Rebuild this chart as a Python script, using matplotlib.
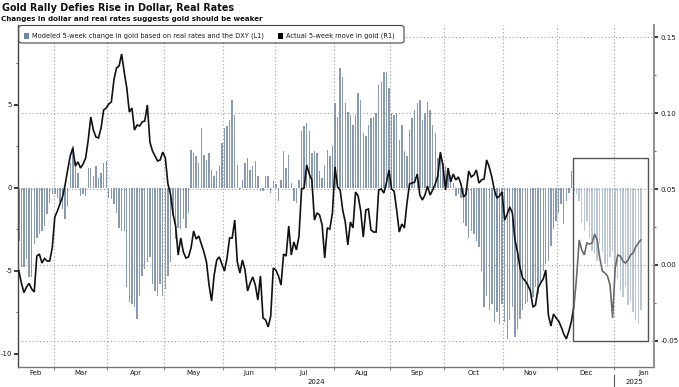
import numpy as np
import pandas as pd
import matplotlib
matplotlib.use("Agg")
import matplotlib.pyplot as plt
from matplotlib.patches import Rectangle, FancyBboxPatch
from matplotlib.lines import Line2D
import matplotlib.transforms as mtransforms

# ---------------- data (business days, Feb 12 2024 -> Jan 15 2025) ----------------
start_date = "2024-02-12"
end_date = "2025-01-15"
highlight_start = "2024-12-10"

title = "Gold Rally Defies Rise in Dollar, Real Rates"
subtitle = "Changes in dollar and real rates suggests gold should be weaker"
label_modeled = "Modeled 5-week change in gold based on real rates and the DXY (L1)"
label_actual = "Actual 5-week move in gold (R1)"

# Modeled 5-week change (L1), one value per business day
modeled = [
    # Feb
    -3.2, -4.8, -4.8, -4.3, -5.4, -5.4, -3.4, -3.0, -2.8, -2.6, -2.3, -1.6, -0.9, -0.4,
    # Mar
    -0.4, -0.6, -0.9, -1.3, -1.9, -1.1, 1.5, 2.5, 1.6, 0.9, -0.5, -0.4, -0.5, 1.2, 1.2,
    0.7, 1.3, 0.6, 0.9, 1.5, 1.6,
    # Apr
    -0.6, -0.7, -1.0, -1.5, -2.4, -2.6, -2.6, -6.0, -6.9, -7.0, -7.2, -7.9, -6.5, -5.3,
    -4.9, -4.5, -4.2, -5.8, -6.2, -6.5, -5.8, -6.5,
    # May
    -6.1, -5.3, -4.5, -1.7, -3.1, -2.4, -2.5, -1.9, -2.4, -1.5, 2.3, 2.1, 1.9, 1.5,
    3.6, 2.0, 1.7, 2.1, 1.1, 0.7, 1.0, 1.3, 2.7,
    # Jun
    3.6, 3.7, 4.1, 5.3, 4.4, 1.4, -0.1, 0.5, 1.5, 1.8, 1.1, 1.3, 1.6, 0.7, -0.2, -0.2,
    0.7, 0.7, -0.3, 0.4,
    # Jul
    0.2, -0.8, 0.5, 2.2, 1.2, 2.0, 0.3, -0.8, -0.9, 0.5, 3.4, 3.7, 3.9, 3.4, 2.1, 2.2,
    2.1, 1.0, 0.6, 1.4, 2.3, 1.9, 2.5,
    # Aug
    5.1, 4.3, 7.2, 6.7, 5.1, 4.6, 4.4, 3.8, 4.4, 5.7, 5.3, 3.3, 3.1, 3.8, 4.2, 4.3,
    4.5, 6.2, 6.4, 7.0, 7.0, 6.0,
    # Sep
    4.5, 4.4, 4.5, 2.9, 3.8, 2.2, 1.9, 3.5, 4.2, 4.7, 5.1, 5.3, 4.1, 4.5, 5.2, 4.7,
    3.8, 3.3, 1.8, 2.0, 1.5,
    # Oct
    1.3, 1.0, 0.8, 0.3, -0.5, -0.4, -0.6, -2.1, -2.3, -3.0, -2.6, -2.8, -3.2, -3.6,
    -5.0, -7.2, -6.5, -7.4, -7.0, -8.1, -7.5, -8.2, -7.0,
    # Nov
    -8.1, -9.1, -8.0, -7.2, -9.0, -8.5, -7.9, -7.4, -7.0, -6.9, -6.4, -6.6, -6.0, -6.4,
    -5.8, -5.0, -4.6, -4.4, -3.5, -2.5, -2.0,
    # Dec
    -1.5, -1.0, -2.2, -0.8, -0.3, 1.0, -0.2, -0.4, -0.8, -2.1, -2.6, -2.0, -3.0, -3.8,
    -4.0, -4.4, -3.4, -3.9, -4.6, -4.8, -4.2, -3.8,
    # Jan
    -4.9, -5.5, -6.2, -6.6, -6.0, -7.1, -6.8, -7.5, -8.0, -8.2, -7.4,
]

# Actual 5-week move in gold (R1), one value per business day
actual = [
    # Feb
    -0.0038, -0.0119, -0.0182, -0.0145, -0.0121, -0.0158, -0.0178, 0.0059, 0.0072,
    0.0013, 0.0043, 0.0026, 0.0026, 0.0112,
    # Mar
    0.0316, 0.0356, 0.0402, 0.0448, 0.0527, 0.0626, 0.0718, 0.0771, 0.0652, 0.0679,
    0.0639, 0.0665, 0.0705, 0.0823, 0.0975, 0.0889, 0.0843, 0.0837, 0.0903, 0.1021, 0.1034,
    # Apr
    0.1061, 0.1074, 0.1219, 0.1298, 0.1311, 0.1390, 0.1271, 0.1166, 0.1008, 0.1034,
    0.0889, 0.0922, 0.0916, 0.0942, 0.0949, 0.1054, 0.0810, 0.0751, 0.0718, 0.0685,
    0.0692, 0.0744,
    # May
    0.0705, 0.0534, 0.0468, 0.0336, 0.0257, 0.0066, 0.0178, 0.0086, 0.0046, 0.0053,
    0.0112, 0.0224, 0.0171, 0.0191, 0.0138, 0.0086, 0.0020, -0.0132, -0.0237, -0.0066,
    0.0033, 0.0053, 0.0007,
    # Jun
    -0.0040, 0.0046, 0.0178, 0.0178, 0.0296, 0.0020, -0.0053, 0.0033, -0.0033, -0.0171,
    -0.0119, -0.0079, -0.0132, -0.0231, -0.0072, -0.0349, -0.0362, -0.0408, -0.0336, -0.0020,
    # Jul
    -0.0033, -0.0072, -0.0132, 0.0072, 0.0059, 0.0257, 0.0066, 0.0152, 0.0099, 0.0191,
    0.0501, 0.0507, 0.0659, 0.0599, 0.0560, 0.0296, 0.0343, 0.0329, 0.0264, 0.0046,
    0.0244, 0.0237, 0.0343,
    # Aug
    0.0646, 0.0514, 0.0494, 0.0362, 0.0283, 0.0132, 0.0283, 0.0244, 0.0481, 0.0455,
    0.0356, 0.0184, 0.0362, 0.0369, 0.0231, 0.0217, 0.0217, 0.0494, 0.0501, 0.0474,
    0.0540, 0.0626,
    # Sep
    0.0501, 0.0487, 0.0362, 0.0217, 0.0270, 0.0244, 0.0408, 0.0534, 0.0540, 0.0547,
    0.0599, 0.0461, 0.0428, 0.0461, 0.0520, 0.0461, 0.0494, 0.0534, 0.0586, 0.0744, 0.0652,
    # Oct
    0.0494, 0.0639, 0.0547, 0.0599, 0.0560, 0.0580, 0.0534, 0.0448, 0.0468, 0.0619,
    0.0580, 0.0593, 0.0626, 0.0540, 0.0560, 0.0567, 0.0692, 0.0646, 0.0580, 0.0494,
    0.0441, 0.0455, 0.0481,
    # Nov
    0.0296, 0.0336, 0.0382, 0.0343, 0.0165, 0.0086, -0.0020, -0.0086, -0.0105, -0.0132,
    -0.0171, -0.0277, -0.0264, -0.0152, -0.0119, -0.0092, -0.0033, -0.0329, -0.0402,
    -0.0323, -0.0349,
    # Dec
    -0.0369, -0.0408, -0.0455, -0.0487, -0.0435, -0.0369, -0.0264, -0.0079, 0.0165,
    0.0099, 0.0066, 0.0145, 0.0138, 0.0145, 0.0204, 0.0165, 0.0046, -0.0040, -0.0053,
    -0.0072, -0.0132, -0.0349,
    # Jan
    -0.0020, 0.0066, 0.0059, 0.0026, 0.0013, 0.0033, 0.0066, 0.0079, 0.0119, 0.0145, 0.0165,
]

left_ticks = [-10, -5, 0, 5]
right_ticks = [-0.05, 0.00, 0.05, 0.10, 0.15]

# ---------------- setup ----------------
dates = pd.bdate_range(start_date, end_date)
n = len(dates)
if len(modeled) != n or len(actual) != n:
    raise ValueError(f"length mismatch: modeled={len(modeled)} actual={len(actual)} dates={n}")
idx = np.arange(n)
hl = int(np.searchsorted(dates, pd.Timestamp(highlight_start)))

W, H = 679, 387
def fx(px):
    return px / W
def fy(py):
    return 1 - py / H

BAR = "#8799b3"
BAR_FADE = "#bcc7d6"
LEG_SQ = "#6f88aa"
GRID = "#9c9c9c"
TXT = "#1a1a1a"

plt.rcParams["font.family"] = ["DejaVu Sans"]

fig = plt.figure(figsize=(W / 100, H / 100), dpi=100)
fig.patch.set_facecolor("white")

ax = fig.add_axes([fx(18.3), fy(367), fx(654) - fx(18.3), fy(25) - fy(367)])
ax2 = ax.twinx()

xmin, xmax = -0.2, 247.1
ax.set_xlim(xmin, xmax)
ax.set_ylim(-10.81, 9.82)
ax2.set_ylim(-0.0672, 0.1581)

# bars
cols = [BAR_FADE if i >= hl else BAR for i in idx]
ax.bar(idx, modeled, width=0.55, color=cols, linewidth=0, zorder=2)

# month boundaries
full_months = pd.period_range("2024-02", "2025-01", freq="M")
bounds = []
label_pos = []
for m in full_months:
    mdays = pd.bdate_range(m.start_time, m.end_time)
    first = (mdays[0] - dates[0]).days  # placeholder, replaced below
    # business-day offsets relative to start
    offs = np.array([np.busday_count(dates[0].date(), d.date()) for d in (mdays[0], mdays[-1])])
    f, l = offs
    if f > 0:
        bounds.append(f - 0.5)
    if f < 0:
        c = (xmin + l + 0.5) / 2
    else:
        c = (f - 0.5 + l + 0.5) / 2
    label_pos.append((c, m.strftime("%b")))

# grid
for b in bounds:
    ax2.axvline(b, color=GRID, lw=0.8, ls=(0, (1, 2.2)), zorder=1)
for t in right_ticks:
    ax2.axhline(t, color=GRID, lw=0.8, ls=(0, (1, 2.2)), zorder=1)

# line
ax2.plot(idx[: hl + 1], actual[: hl + 1], color="#111111", lw=1.2, zorder=4,
         solid_joinstyle="miter")
ax2.plot(idx[hl:], actual[hl:], color="#6a6a6a", lw=1.2, zorder=4,
         solid_joinstyle="miter")

# highlight box
ax2.add_patch(Rectangle((hl - 0.5, -0.05), 244.6 - (hl - 0.5), 0.0703 + 0.05,
                        fill=False, ec="#555555", lw=1.0, zorder=5))

# axes styling
for a in (ax, ax2):
    a.spines["top"].set_visible(False)
ax.spines["right"].set_visible(False)
ax2.spines["left"].set_visible(False)
ax2.spines["bottom"].set_visible(False)
ax.spines["left"].set_color("#444444")
ax.spines["bottom"].set_color("#777777")
ax2.spines["right"].set_color("#888888")
ax.spines["left"].set_linewidth(1.0)
ax.spines["bottom"].set_linewidth(1.0)
ax2.spines["right"].set_linewidth(1.3)

ax.set_yticks(left_ticks)
ax.set_yticklabels([str(t) for t in left_ticks])
ax.set_yticks(np.arange(-10, 10, 2.5), minor=True)
ax2.set_yticks(right_ticks)
ax2.set_yticklabels([f"{t:.2f}" for t in right_ticks])
ax2.set_yticks(np.arange(-0.05, 0.151, 0.025), minor=True)

ax.tick_params(axis="y", which="major", length=3, width=1.2, direction="out",
               pad=1.5, labelsize=5, colors=TXT)
ax.tick_params(axis="y", which="minor", length=1.5, width=0.8, color="#666666")
ax2.tick_params(axis="y", which="major", length=3, width=1.2, direction="out",
                pad=1.5, labelsize=5, colors=TXT)
ax2.tick_params(axis="y", which="minor", length=1.5, width=0.8, color="#666666")

ax.set_xticks(bounds)
ax.set_xticklabels([])
ax.tick_params(axis="x", which="major", length=2.5, width=0.8, color="#888888")

# month and year labels
tr = ax.get_xaxis_transform()
for c, lab in label_pos:
    ax.text(c, -0.019, lab, transform=tr, ha="center", va="center",
            fontsize=5, color=TXT)
sep = 231.5
ax.text((xmin + sep) / 2, -0.0445, "2024", transform=tr, ha="center", va="center",
        fontsize=5, color=TXT)
ax.text((sep + xmax) / 2, -0.0445, "2025", transform=tr, ha="center", va="center",
        fontsize=5, color=TXT)
ax.add_line(Line2D([sep, sep], [-0.022, -0.06], transform=tr, color="#555555",
                   lw=0.8, clip_on=False))

# legend (custom box)
leg = FancyBboxPatch((fx(18.8), fy(43)), fx(404) - fx(18.8), fy(25.5) - fy(43),
                     boxstyle="round,pad=0,rounding_size=0.005",
                     transform=fig.transFigure, fc="white", ec="#444444", lw=0.8,
                     zorder=6)
fig.add_artist(leg)
fig.add_artist(Rectangle((fx(23.7), fy(38.5)), fx(5.3), fy(0) - fy(5.3),
                         transform=fig.transFigure, fc=LEG_SQ, ec="none", zorder=7))
fig.text(fx(32.5), fy(35.3), label_modeled, fontsize=4.8, color=TXT,
         va="center", ha="left", zorder=7)
fig.add_artist(Rectangle((fx(277.5), fy(38.5)), fx(5.3), fy(0) - fy(5.3),
                         transform=fig.transFigure, fc="#000000", ec="none", zorder=7))
fig.text(fx(285.7), fy(35.3), label_actual, fontsize=4.8, color=TXT,
         va="center", ha="left", zorder=7)

# titles
fig.text(fx(1.5), fy(8.2), title, fontsize=6.9, fontweight="bold", color="#111111",
         va="center", ha="left")
fig.text(fx(1.0), fy(18.6), subtitle, fontsize=5.1, fontweight="bold", color="#111111",
         va="center", ha="left")

fig.savefig("out.png", dpi=100, facecolor="white")
